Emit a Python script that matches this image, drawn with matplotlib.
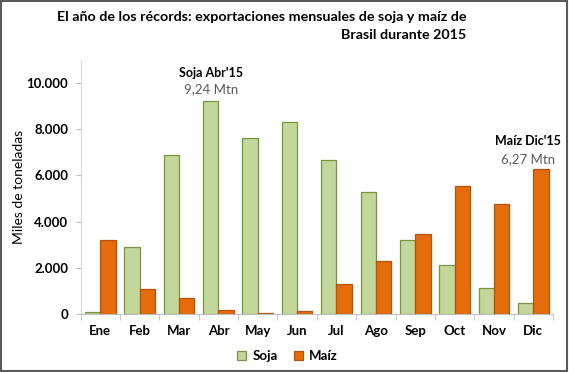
import matplotlib.pyplot as plt
import numpy as np
from matplotlib.patches import Rectangle

plt.rcParams['font.family'] = ['Lato', 'DejaVu Sans']

meses = ['Ene', 'Feb', 'Mar', 'Abr', 'May', 'Jun', 'Jul', 'Ago', 'Sep', 'Oct', 'Nov', 'Dic']
soja = [90, 2890, 6880, 9240, 7620, 8310, 6680, 5280, 3200, 2120, 1130, 480]
maiz = [3200, 1080, 690, 170, 40, 130, 1300, 2290, 3480, 5540, 4760, 6270]
yticks = [0, 2000, 4000, 6000, 8000, 10000]
ylabels = ['0', '2.000', '4.000', '6.000', '8.000', '10.000']

c_soja, e_soja = '#C4D79B', '#77933C'
c_maiz, e_maiz = '#E46C0A', '#B5510C'

fig = plt.figure(figsize=(5.69, 3.72), dpi=100)
ax = fig.add_axes([0.1418, 0.1559, 0.830, 0.683])

x = np.arange(len(meses))
w = 0.39
ax.bar(x - w / 2, soja, w, color=c_soja, edgecolor=e_soja, linewidth=0.9, label='Soja')
ax.bar(x + w / 2, maiz, w, color=c_maiz, edgecolor=e_maiz, linewidth=0.9, label='Maíz')

ax.set_xlim(-0.5, 11.5)
ax.set_ylim(0, 11000)
ax.set_yticks(yticks)
ax.set_yticklabels(ylabels, fontweight='bold', fontsize=9.5)
ax.set_xticks(x)
ax.set_xticklabels(meses, fontweight='bold', fontsize=9.5)
ax.set_xticks(np.arange(-0.5, 12, 1), minor=True)
ax.tick_params(axis='x', which='major', length=0, pad=8)
ax.tick_params(axis='x', which='minor', length=4, color='#BFBFBF', direction='out')
ax.tick_params(axis='y', length=3.6, color='#BFBFBF', pad=5.5)
for s in ['top', 'right']:
    ax.spines[s].set_visible(False)
ax.spines['left'].set_color('#D9D9D9')
ax.spines['bottom'].set_color('#BFBFBF')
ax.set_ylabel('Miles de toneladas', fontsize=10)
ax.yaxis.set_label_coords(-0.118, 0.5)

# anotaciones
ax.text(3 - w / 2, 10430, "Soja Abr'15", ha='center', va='center', fontsize=9, fontweight='bold')
ax.text(3 - w / 2, 9740, '9,24 Mtn', ha='center', va='center', fontsize=9.5, color='#595959')
ax.text(10.86, 7490, "Maíz Dic'15", ha='center', va='center', fontsize=9, fontweight='bold')
ax.text(10.86, 6710, '6,27 Mtn', ha='center', va='center', fontsize=9.5, color='#595959')

fig.text(0.819, 0.97, 'El año de los récords: exportaciones mensuales de soja y maíz de\nBrasil durante 2015',
         ha='right', va='top', multialignment='right', fontsize=10.3, fontweight='bold', linespacing=1.6)

fig.legend(loc='center', bbox_to_anchor=(0.505, 0.043), ncol=2, frameon=False,
           prop={'weight': 'bold', 'size': 9.5}, handlelength=0.7, handleheight=0.7,
           columnspacing=1.2, handletextpad=0.5)

fig.patches.append(Rectangle((0.002, 0.004), 0.995, 0.993, transform=fig.transFigure,
                             fill=False, edgecolor='#595959', linewidth=1.5))

fig.savefig('out.png', dpi=100)
